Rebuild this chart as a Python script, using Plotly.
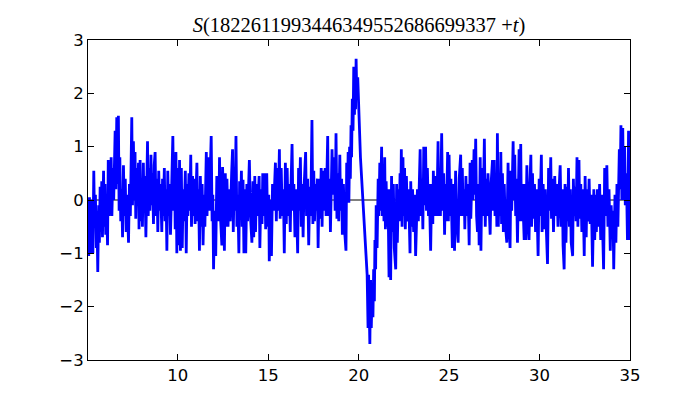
import plotly.graph_objects as go

# (t, S) samples, grouped by stretches of t
seg_a = [(5.05,-0.6),(5.08,-1.05),(5.12,0.05),(5.16,-1.0),(5.2,0.0),(5.24,-0.7),(5.29,-0.1),(5.31,-1.0),
         (5.36,0.55),(5.4,-0.4),(5.45,0.1),(5.5,-0.9),(5.53,-0.2),(5.58,-1.35),(5.63,-0.1),(5.67,-0.8),
         (5.71,0.25),(5.75,-0.6),(5.8,0.35),(5.84,-0.7),(5.9,0.55),(5.94,-0.5),(5.98,0.3),(6.02,-0.65),
         (6.06,0.1),(6.12,-0.85),(6.16,0.75),(6.2,-0.3),(6.25,0.5),(6.28,-0.2),(6.32,0.8),(6.36,-0.3),
         (6.42,0.6),(6.46,0.0),(6.54,1.3),(6.58,0.2),(6.63,1.55),(6.67,0.3),(6.72,1.58),(6.76,-0.2),
         (6.8,0.8),(6.85,-0.4),(6.9,0.2),(6.95,-0.7),(7.0,0.65),(7.05,-0.3),(7.1,0.4),(7.15,-0.6),
         (7.2,0.1),(7.28,-0.8),(7.33,0.3),(7.38,-0.3),(7.46,1.55),(7.5,-0.1)]
seg_b = [(7.55,1.1),(7.6,0.0),(7.64,0.9),(7.68,-0.35),(7.73,0.6),(7.78,-0.1),(7.83,0.7),(7.86,-0.55),
         (7.92,0.75),(7.96,-0.4),(8.0,0.3),(8.05,-0.5),(8.1,0.7),(8.14,-0.2),(8.18,0.45),(8.24,-0.7),
         (8.33,1.1),(8.37,-0.3),(8.42,0.6),(8.46,-0.2),(8.52,0.85),(8.56,-0.1),(8.6,0.5),(8.66,-0.45),
         (8.7,0.65),(8.75,0.9),(8.8,-0.3),(8.85,0.4),(8.9,-0.6),(8.95,0.55),(9.0,-0.2),(9.05,0.3),
         (9.12,-0.6),(9.16,0.4),(9.2,-0.3),(9.26,0.6),(9.3,-0.4),(9.35,0.2),(9.4,-0.95),(9.45,0.55),
         (9.5,-0.3),(9.55,0.3),(9.6,-0.65),(9.68,0.5),(9.73,1.2),(9.78,-0.2),(9.82,0.7),(9.86,-0.55),
         (9.9,0.9),(9.95,-1.0),(10.0,0.6)]
seg_c = [(10.05,-0.85),(10.1,0.75),(10.15,-0.95),(10.2,0.6),(10.25,-0.9),(10.3,0.2),(10.35,-0.4),
         (10.42,0.55),(10.47,-1.0),(10.52,0.3),(10.56,-0.3),(10.62,0.5),(10.66,-0.2),(10.72,0.85),
         (10.76,-0.5),(10.82,0.45),(10.86,-0.3),(10.92,0.4),(10.96,-0.45),(11.02,0.3),(11.06,0.7),
         (11.1,-0.4),(11.15,0.2),(11.2,-0.95),(11.25,0.45),(11.3,-0.5),(11.35,0.3),(11.4,-0.85),
         (11.46,0.1),(11.5,-0.5),(11.58,0.9),(11.62,-0.3),(11.7,0.8),(11.74,-0.2),(11.8,0.4),
         (11.85,1.2),(11.9,-0.4),(11.94,0.1),(11.98,-1.3),(12.04,-0.2),(12.1,-1.05),(12.16,0.45),
         (12.2,-0.3),(12.24,0.3),(12.27,-0.4),(12.31,0.8),(12.36,-0.3),(12.44,-0.85),(12.48,0.62)]
seg_d = [(12.53,-0.3),(12.58,-0.95),(12.63,0.5),(12.68,-0.5),(12.72,0.4),(12.78,-0.5),(12.84,0.2),
         (12.9,-0.4),(12.98,0.5),(13.03,0.95),(13.07,-0.6),(13.12,0.3),(13.16,-0.2),(13.22,1.2),
         (13.27,-0.5),(13.32,0.1),(13.38,-1.0),(13.42,0.35),(13.47,-0.3),(13.52,0.55),(13.56,-0.5),
         (13.61,0.38),(13.66,-1.0),(13.72,0.2),(13.76,-1.0),(13.82,0.3),(13.86,-0.4),(13.92,0.5),
         (13.96,0.75),(14.02,-0.3),(14.1,-0.8),(14.16,0.35),(14.2,-0.7),(14.26,0.45),(14.3,-0.6),
         (14.36,0.3),(14.4,-0.3),(14.5,0.45),(14.54,-0.9),(14.6,0.2),(14.66,-0.45),(14.7,0.5),
         (14.76,-0.3),(14.82,0.5),(14.86,-0.55),(14.92,0.5),(14.97,-0.5)]
seg_e = [(15.03,0.1),(15.06,-1.15),(15.12,0.0),(15.18,-1.05),(15.24,0.3),(15.3,-0.2),(15.4,0.7),
         (15.45,-0.4),(15.5,0.6),(15.55,-0.2),(15.62,0.95),(15.66,-0.35),(15.72,0.6),(15.78,-0.3),
         (15.84,0.2),(15.89,-1.0),(15.95,0.7),(16.0,-0.45),(16.05,0.6),(16.1,-0.3),(16.16,0.3),
         (16.22,-0.6),(16.27,0.4),(16.32,1.05),(16.37,-0.2),(16.42,0.3),(16.48,-0.7),(16.53,0.2),
         (16.58,-0.3),(16.63,-1.0),(16.68,0.6),(16.72,-0.2),(16.78,0.8),(16.83,-0.5),(16.88,0.3),
         (16.93,-0.7),(16.98,0.2),(17.07,0.9),(17.12,-0.3),(17.18,0.4),(17.24,-0.85),(17.3,0.25),
         (17.35,-0.3),(17.42,1.5),(17.47,-0.45)]
seg_f = [(17.52,0.55),(17.56,-0.4),(17.62,0.3),(17.66,-0.2),(17.72,0.4),(17.76,-0.9),(17.82,0.4),
         (17.87,-0.35),(17.93,0.6),(17.98,-0.5),(18.03,0.55),(18.08,-0.2),(18.15,0.6),(18.2,-0.3),
         (18.29,1.2),(18.33,-0.3),(18.4,0.4),(18.44,-0.6),(18.53,0.95),(18.58,0.1),(18.65,0.8),
         (18.7,-0.2),(18.75,1.25),(18.8,-0.35),(18.86,0.5),(18.9,-0.4),(18.96,0.85),(19.0,-0.2),
         (19.06,0.4),(19.1,-0.65),(19.16,0.3),(19.22,-0.55),(19.3,-0.95),(19.34,0.7),(19.38,0.0),
         (19.42,0.9),(19.46,-0.05),(19.5,1.0),(19.54,0.4),(19.58,1.4),(19.61,0.8),(19.65,1.9),
         (19.69,1.3),(19.73,2.5),(19.77,1.6),(19.8,2.4),(19.83,1.7),(19.86,2.65),(19.9,1.9),
         (19.95,2.3),(20.01,1.8),(20.1,0.8)]
seg_g = [(20.47,-1.4),(20.52,-2.4),(20.55,-1.4),(20.62,-2.7),(20.66,-1.5),(20.7,-2.4),(20.75,-1.6),
         (20.79,-2.2),(20.83,-1.3),(20.87,-1.9),(20.9,-0.75),(20.94,-1.3),(20.97,-0.1),(21.02,-0.9),
         (21.08,0.4),(21.12,-0.3),(21.17,0.7),(21.2,-0.2),(21.27,1.0),(21.31,-0.3),(21.36,0.6),
         (21.4,-0.4),(21.44,0.8),(21.48,-0.55),(21.52,0.35),(21.57,-0.5),(21.62,0.2),(21.68,-1.45),
         (21.72,0.2),(21.77,-1.5),(21.82,0.45),(21.86,-0.6),(21.92,0.3),(21.97,-0.9)]
seg_h = [(22.05,-1.3),(22.1,0.3),(22.14,-0.8),(22.2,0.2),(22.24,-0.4),(22.29,0.5),(22.32,-0.3),
         (22.36,0.95),(22.4,-0.5),(22.45,0.8),(22.49,-0.3),(22.54,0.6),(22.58,-0.55),(22.64,0.45),
         (22.7,-0.4),(22.76,0.2),(22.84,-1.0),(22.88,0.35),(22.93,-0.5),(22.98,0.2),(23.04,-0.6),
         (23.1,0.1),(23.15,-1.05),(23.2,-0.1),(23.25,0.2),(23.3,-0.4),(23.4,0.95),(23.45,-0.3),
         (23.5,0.4),(23.55,-0.55),(23.6,1.0),(23.65,-0.1),(23.7,1.0),(23.75,-0.2),(23.8,0.6),
         (23.86,-0.3),(23.9,0.3),(23.98,-0.95),(24.04,0.3),(24.1,-0.45),(24.13,0.55),(24.18,-0.3),
         (24.26,0.45),(24.32,-0.3),(24.39,1.1),(24.43,-0.3),(24.48,0.4)]
seg_i = [(24.52,-0.3),(24.59,1.25),(24.64,-0.2),(24.7,0.5),(24.75,-0.65),(24.8,0.3),(24.85,-0.4),
         (24.92,0.9),(24.96,-0.4),(25.0,0.85),(25.05,-0.3),(25.1,0.4),(25.18,-0.9),(25.22,0.3),
         (25.3,-0.95),(25.36,0.55),(25.4,-0.3),(25.5,-0.8),(25.56,0.4),(25.64,0.85),(25.68,-0.3),
         (25.73,0.6),(25.78,-0.3),(25.83,0.2),(25.87,-0.55),(25.93,0.45),(25.98,-0.3),(26.04,0.3),
         (26.11,-0.85),(26.16,0.7),(26.2,-0.35),(26.28,0.75),(26.32,0.0),(26.38,0.95),(26.42,0.1),
         (26.47,1.15),(26.52,-0.3),(26.57,-0.6),(26.62,0.3),(26.66,-0.85),(26.72,0.8),(26.76,-0.95),
         (26.82,0.6),(26.88,-0.3),(26.95,1.15)]
seg_j = [(27.0,-0.5),(27.05,0.4),(27.1,-0.3),(27.15,0.5),(27.27,-0.65),(27.32,0.3),(27.4,0.75),
         (27.45,-0.2),(27.49,0.75),(27.54,-0.3),(27.6,0.45),(27.64,-0.5),(27.67,1.25),(27.72,-0.5),
         (27.78,0.5),(27.82,-0.3),(27.86,0.9),(27.9,-0.45),(27.95,0.5),(28.0,-0.6),(28.05,0.3),
         (28.1,-0.4),(28.19,-0.8),(28.26,0.7),(28.3,-0.3),(28.37,-0.9),(28.42,0.55),(28.46,-0.2),
         (28.54,1.1),(28.58,0.0),(28.63,0.85),(28.68,-0.3),(28.72,0.4),(28.78,-0.8),(28.87,0.95),
         (28.92,-0.4),(28.96,1.05),(29.0,-0.4),(29.05,0.3),(29.15,-0.75),(29.2,0.3),(29.24,-0.75),
         (29.3,0.65),(29.35,-0.3),(29.42,-0.75),(29.47,0.3)]
seg_k = [(29.52,0.85),(29.56,-0.5),(29.61,0.5),(29.66,-0.35),(29.72,0.3),(29.78,-0.6),(29.84,0.2),
         (29.92,-1.05),(29.98,0.4),(30.02,-0.3),(30.1,0.85),(30.14,-0.6),(30.2,0.3),(30.25,-0.55),
         (30.32,0.2),(30.36,-0.4),(30.44,-1.2),(30.5,0.6),(30.55,-0.2),(30.62,0.8),(30.66,-0.35),
         (30.72,0.4),(30.77,-0.6),(30.84,0.45),(30.9,-0.3),(30.96,0.3),(31.02,-0.5),(31.08,0.2),
         (31.14,0.65),(31.2,-0.5),(31.26,0.2),(31.3,-0.85),(31.36,-1.3),(31.41,0.3),(31.46,-0.8),
         (31.52,0.25),(31.56,-0.4),(31.6,0.6),(31.65,-0.5),(31.7,0.2),(31.75,-0.8),(31.83,-1.05),
         (31.87,0.4),(31.92,-0.3),(31.96,0.25)]
seg_l = [(32.02,-0.4),(32.07,0.8),(32.12,-0.5),(32.18,0.75),(32.22,-0.35),(32.28,0.3),(32.34,-0.6),
         (32.4,0.2),(32.47,-1.05),(32.52,0.45),(32.58,-0.7),(32.62,0.2),(32.68,-0.4),(32.74,0.4),
         (32.8,-0.45),(32.86,0.1),(32.93,-1.25),(33.0,0.2),(33.05,-0.75),(33.1,0.1),(33.14,-0.6),
         (33.2,0.2),(33.26,-0.5),(33.32,0.3),(33.38,-0.75),(33.44,0.1),(33.54,-1.3),(33.6,0.6),
         (33.65,-0.3),(33.72,0.65),(33.78,-0.5),(33.84,0.2),(33.91,-0.95),(33.96,-0.1),(34.02,-0.7),
         (34.06,-0.2),(34.1,-1.3),(34.17,0.1),(34.22,-0.8),(34.28,0.3),(34.33,-0.5),(34.41,0.95),
         (34.45,0.2),(34.5,1.4),(34.55,0.0),(34.6,1.35),(34.64,0.0),(34.7,1.0),(34.74,-0.1),
         (34.8,0.5),(34.86,-0.75),(34.92,1.3),(34.97,-0.2),(35.0,-0.75)]

segments = [seg_a, seg_b, seg_c, seg_d, seg_e, seg_f, seg_g, seg_h, seg_i, seg_j, seg_k, seg_l]
t_vals = [p[0] for seg in segments for p in seg]
s_vals = [p[1] for seg in segments for p in seg]

x_ticks = [10, 15, 20, 25, 30, 35]
y_ticks = [-3, -2, -1, 0, 1, 2, 3]
y_labels = ["\u22123", "\u22122", "\u22121", "0", "1", "2", "3"]
title_html = "<i>S</i>(1822611993446349552686699337 +<i>t</i>)"

fig = go.Figure()
fig.add_trace(go.Scatter(x=[5.04, 35], y=[0, 0], mode="lines",
                         line=dict(color="black", width=1), hoverinfo="skip", showlegend=False))
fig.add_trace(go.Scatter(x=t_vals, y=s_vals, mode="lines",
                         line=dict(color="#0000ff", width=2.8), showlegend=False))

axis_common = dict(showgrid=False, zeroline=False, showline=True, linecolor="black", linewidth=1,
                   mirror="ticks", ticks="inside", ticklen=6, tickcolor="black", tickwidth=1,
                   automargin=False,
                   tickfont=dict(family="DejaVu Sans", size=16.5, color="black"))
fig.update_xaxes(range=[5.04, 35], tickvals=x_ticks, ticktext=[str(v) for v in x_ticks], **axis_common)
fig.update_yaxes(range=[-3, 3], tickvals=y_ticks, ticktext=y_labels, **axis_common)

# the page body adds an 8px offset, so margins are shifted to compensate
fig.update_layout(
    width=700, height=400,
    margin=dict(l=80, r=78, t=32, b=48),
    paper_bgcolor="white", plot_bgcolor="white",
    title=dict(text=title_html, x=0.5, xref="paper", y=1 - 17 / 400, yref="container",
               xanchor="center", yanchor="middle",
               font=dict(family="Liberation Serif", size=20.5, color="black")),
)
fig.write_html("out.html")
